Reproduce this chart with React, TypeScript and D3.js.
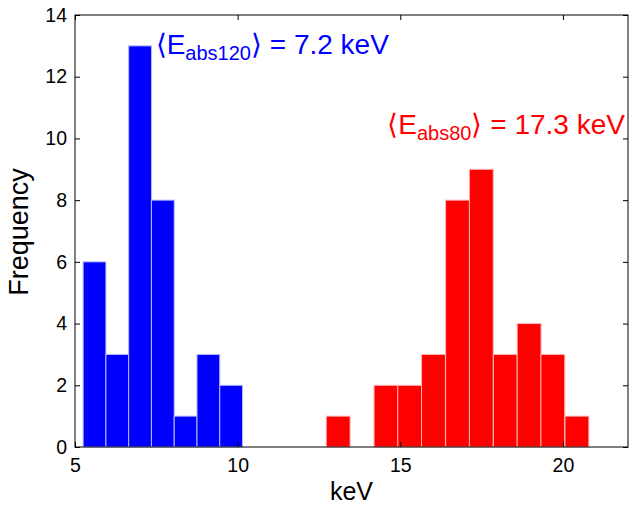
import React, { useRef, useEffect } from 'react';
import * as d3 from 'd3';

// histogram bin centers (keV) and counts
const blueCenters = [5.6, 6.3, 7.0, 7.7, 8.4, 9.1, 9.8];
const blueCounts = [6, 3, 13, 8, 1, 3, 2];
const blueWidth = 0.7;

const redCenters = [13.09, 13.82, 14.56, 15.29, 16.02, 16.76, 17.49, 18.23, 18.96, 19.69, 20.43];
const redCounts = [1, 0, 2, 2, 3, 8, 9, 3, 4, 3, 1];
const redWidth = 0.734;

const xTicks = [5, 10, 15, 20];
const yTicks = [0, 2, 4, 6, 8, 10, 12, 14];

const blueLabel = { sub: 'abs120', value: '7.2 keV', x: 7.48, y: 12.74 };
const redLabel = { sub: 'abs80', value: '17.3 keV', x: 14.6, y: 10.14 };

function App() {
  const svgRef = useRef<SVGSVGElement>(null);

  useEffect(() => {
    const svg = d3.select(svgRef.current);
    svg.selectAll('*').remove();

    const margin = { top: 15, right: 1, bottom: 60, left: 75 };
    const W = 629, H = 507;
    const width = W - margin.left - margin.right;
    const height = H - margin.top - margin.bottom;
    const font = 'Liberation Sans, Arial, Helvetica, sans-serif';

    const x = d3.scaleLinear().domain([5, 22]).range([0, width]);
    const y = d3.scaleLinear().domain([0, 14]).range([height, 0]);

    const g = svg.append('g').attr('transform', `translate(${margin.left},${margin.top})`);

    const drawBars = (centers: number[], counts: number[], w: number, color: string, edge: string) => {
      g.append('g')
        .selectAll('rect')
        .data(centers.map((c, i) => ({ c, n: counts[i] })).filter(d => d.n > 0))
        .enter().append('rect')
        .attr('x', d => x(d.c - w / 2))
        .attr('width', d => x(d.c + w / 2) - x(d.c - w / 2))
        .attr('y', d => y(d.n))
        .attr('height', d => y(0) - y(d.n))
        .attr('fill', color)
        .attr('stroke', edge)
        .attr('stroke-width', 1);
    };
    drawBars(blueCenters, blueCounts, blueWidth, '#0000ff', '#b8b8ff');
    drawBars(redCenters, redCounts, redWidth, '#ff0000', '#ffb8b8');

    // axes, MATLAB style with box and inward ticks
    const tickLen = 5;
    const styleAxis = (sel: d3.Selection<SVGGElement, unknown, null, undefined>) => {
      sel.select('.domain').remove();
      sel.selectAll('line').attr('stroke', '#000');
      sel.selectAll('text')
        .attr('font-family', font)
        .attr('font-size', 19.5)
        .attr('fill', '#000');
    };

    g.append('g')
      .attr('transform', `translate(0,${height})`)
      .call(d3.axisBottom(x).tickValues(xTicks).tickSize(-tickLen).tickPadding(11).tickFormat(d3.format('d')))
      .call(styleAxis);

    g.append('g')
      .call(d3.axisLeft(y).tickValues(yTicks).tickSize(-tickLen).tickPadding(8).tickFormat(d3.format('d')))
      .call(styleAxis);

    g.append('g')
      .call(d3.axisTop(x).tickValues(xTicks).tickSize(-tickLen).tickFormat(() => ''))
      .call(styleAxis);

    g.append('g')
      .attr('transform', `translate(${width},0)`)
      .call(d3.axisRight(y).tickValues(yTicks).tickSize(-tickLen).tickFormat(() => ''))
      .call(styleAxis);

    g.append('rect')
      .attr('x', 0).attr('y', 0)
      .attr('width', width).attr('height', height)
      .attr('fill', 'none')
      .attr('stroke', '#000')
      .attr('stroke-width', 1);

    // axis labels
    g.append('text')
      .attr('x', width / 2)
      .attr('y', height + 53)
      .attr('text-anchor', 'middle')
      .attr('font-family', font)
      .attr('font-size', 25)
      .text('keV');

    g.append('text')
      .attr('transform', `translate(${-47},${height / 2 + 1}) rotate(-90)`)
      .attr('text-anchor', 'middle')
      .attr('font-family', font)
      .attr('font-size', 27)
      .text('Frequency');

    // mean annotations
    const annotate = (lab: typeof blueLabel, color: string) => {
      const t = g.append('text')
        .attr('x', x(lab.x))
        .attr('y', y(lab.y))
        .attr('font-family', font)
        .attr('font-size', 28)
        .attr('fill', color);
      t.append('tspan').attr('font-family', 'DejaVu Sans').attr('font-weight', 200).text('\u27E8');
      t.append('tspan').text('E');
      t.append('tspan').attr('font-size', 20).attr('dy', 6).text(lab.sub);
      t.append('tspan').attr('font-family', 'DejaVu Sans').attr('font-weight', 200).attr('dy', -6).text('\u27E9');
      t.append('tspan').text(` = ${lab.value}`);
    };
    annotate(blueLabel, '#0000ff');
    annotate(redLabel, '#ff0000');
  }, []);

  return (
    <svg ref={svgRef} width={629} height={507} style={{ position: 'absolute', left: 0, top: 0, background: '#fff' }} />
  );
}

export default App;
